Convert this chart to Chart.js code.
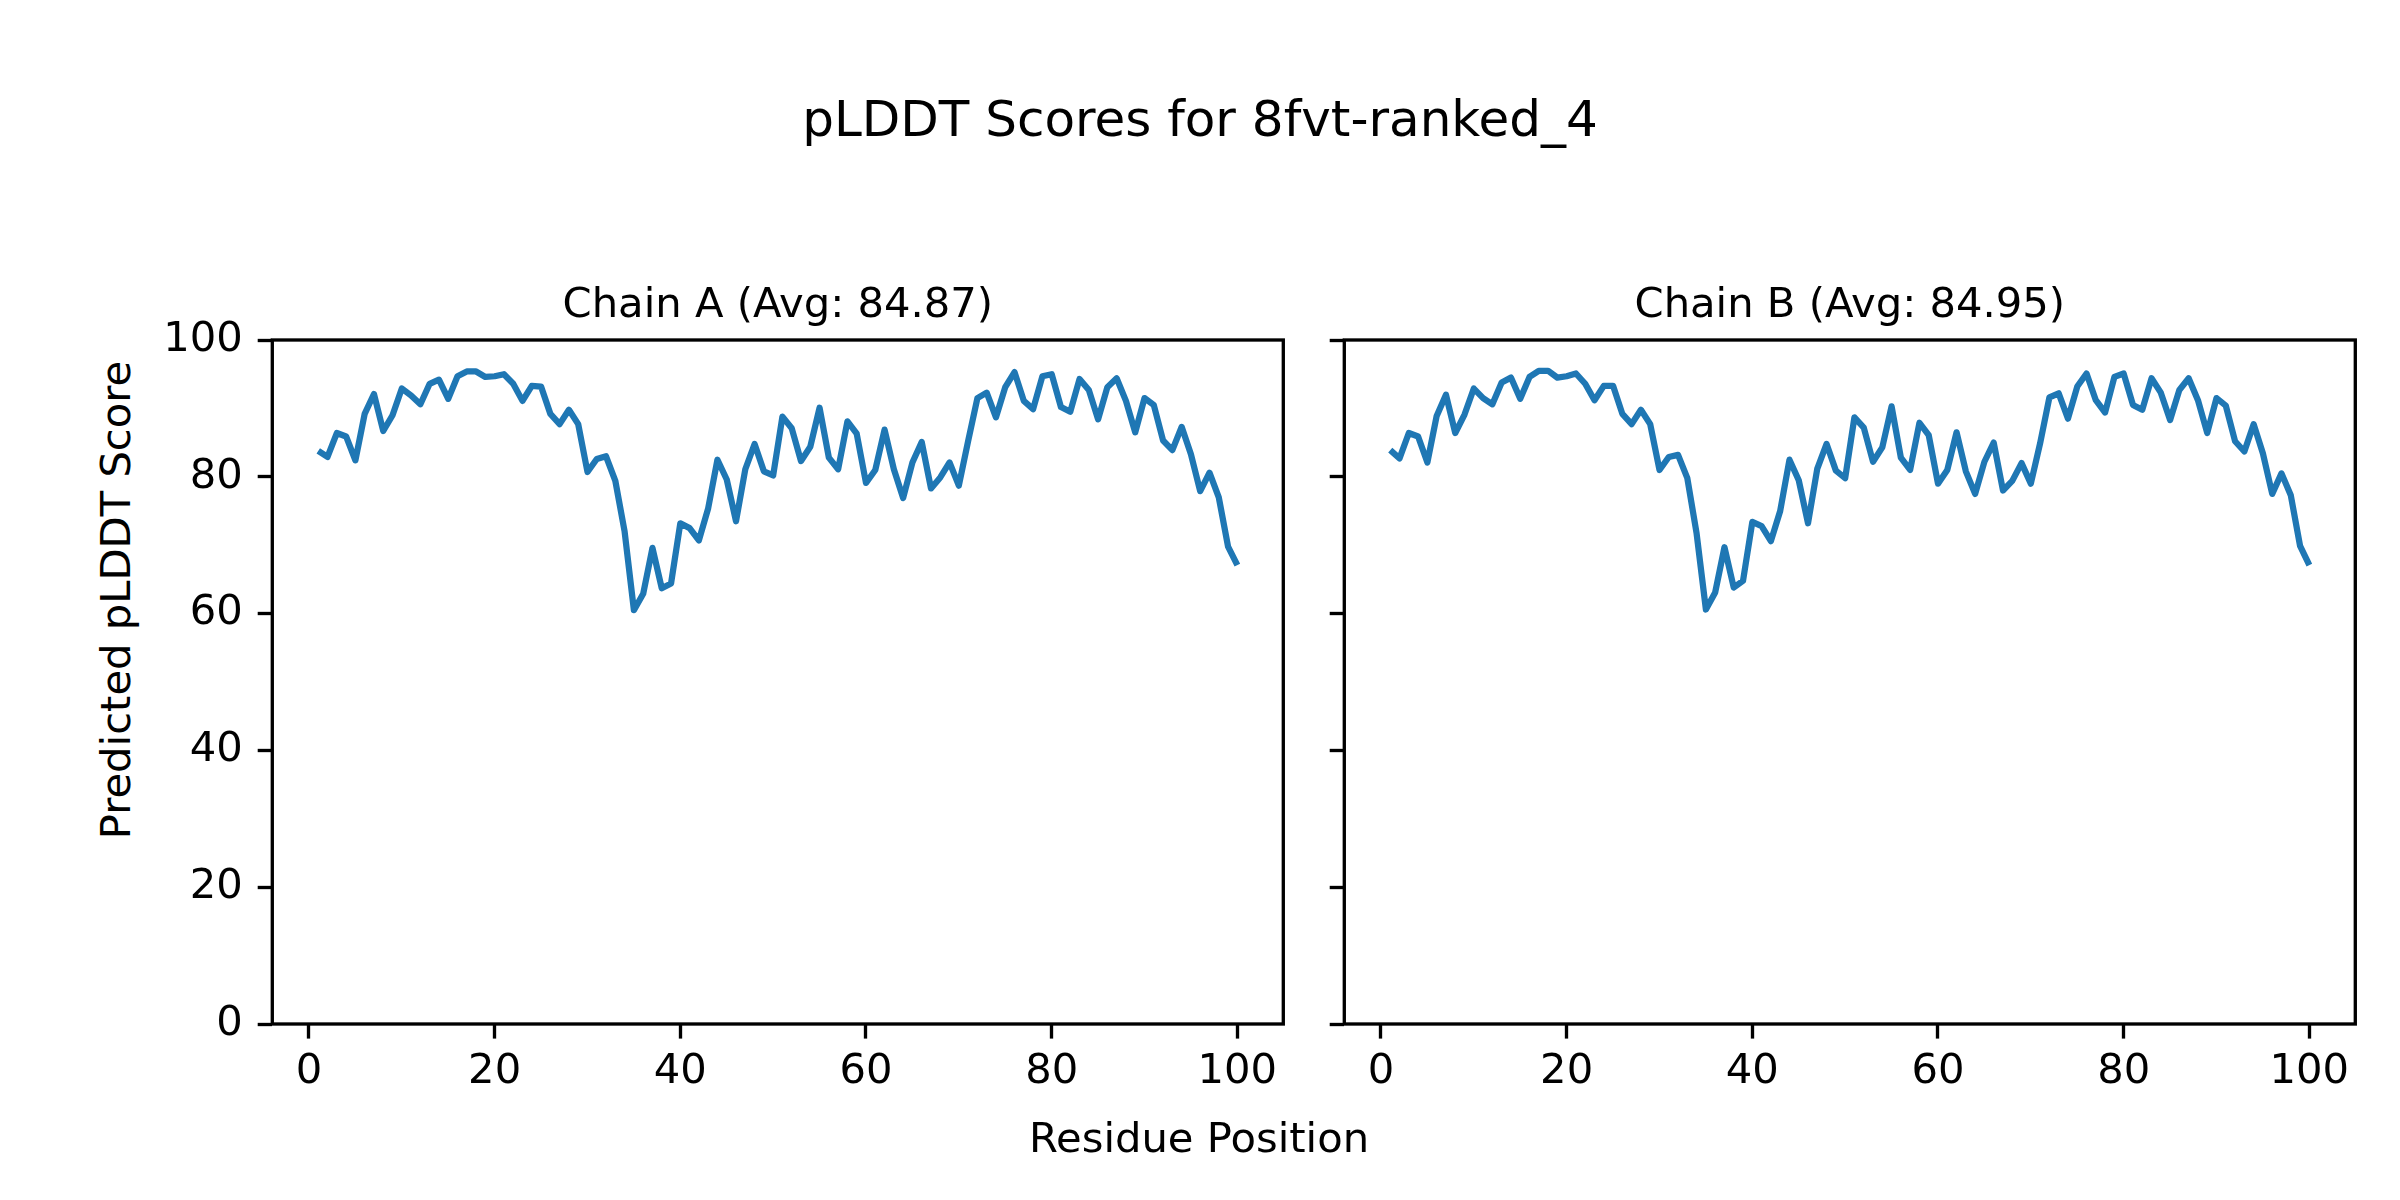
<!DOCTYPE html>
<html>
<head>
<meta charset="utf-8">
<script src="https://cdn.jsdelivr.net/npm/chart.js@4.4.1/dist/chart.umd.min.js"></script>
<style>
  html, body { margin: 0; padding: 0; background: #fff; }
  #fig { position: relative; width: 2400px; height: 1200px; background: #fff; font-family: 'DejaVu Sans', sans-serif; color: #000; }
  canvas { position: absolute; }
  .txt { position: absolute; line-height: 1; white-space: nowrap; }
</style>
</head>
<body>
<div id="fig">
  <div class="txt" style="left:1200px; top:94px; font-size:50px; transform:translateX(-50%);">pLDDT Scores for 8fvt-ranked_4</div>
  <canvas id="chainA" width="1150" height="880" style="left:150px; top:250px; width:1150px; height:880px;"></canvas>
  <canvas id="chainB" width="1080" height="880" style="left:1300px; top:250px; width:1080px; height:880px;"></canvas>
  <div class="txt" style="left:1199px; top:1117px; font-size:41.7px; transform:translateX(-50%);">Residue Position</div>
  <div class="txt" style="left:116px; top:600px; font-size:41.7px; transform:translate(-50%,-50%) rotate(-90deg);">Predicted pLDDT Score</div>
</div>
<script>
// residue positions (x)
const residues = [
  1, 2, 3, 4, 5, 6, 7, 8, 9, 10, 11, 12, 13, 14, 15, 16, 17, 18, 19, 20,
  21, 22, 23, 24, 25, 26, 27, 28, 29, 30, 31, 32, 33, 34, 35, 36, 37, 38, 39, 40,
  41, 42, 43, 44, 45, 46, 47, 48, 49, 50, 51, 52, 53, 54, 55, 56, 57, 58, 59, 60,
  61, 62, 63, 64, 65, 66, 67, 68, 69, 70, 71, 72, 73, 74, 75, 76, 77, 78, 79, 80,
  81, 82, 83, 84, 85, 86, 87, 88, 89, 90, 91, 92, 93, 94, 95, 96, 97, 98, 99, 100
];

const chainA = [
  83.8, 82.9, 86.4, 85.9, 82.4, 89.2, 92.1, 86.7, 89.0, 92.9,
  91.9, 90.6, 93.6, 94.2, 91.4, 94.7, 95.4, 95.4, 94.6, 94.7,
  95.0, 93.6, 91.1, 93.3, 93.2, 89.2, 87.7, 89.8, 87.7, 80.7,
  82.6, 83.0, 79.4, 72.0, 60.5, 62.9, 69.6, 63.7, 64.4, 73.2,
  72.5, 70.7, 75.4, 82.5, 79.6, 73.5, 81.1, 84.8, 80.8, 80.2,
  88.8, 87.1, 82.3, 84.4, 90.1, 82.8, 81.1, 88.1, 86.3, 79.1,
  81.0, 86.9, 81.1, 76.9, 82.1, 85.1, 78.3, 79.9, 82.1, 78.7,
  85.2, 91.5, 92.3, 88.7, 93.1, 95.3, 91.1, 89.9, 94.7, 95.0,
  90.2, 89.5, 94.3, 92.7, 88.4, 93.1, 94.4, 91.1, 86.5, 91.5,
  90.5, 85.3, 83.9, 87.3, 83.3, 77.9, 80.6, 77.0, 69.8, 67.1
];

const chainB = [
  83.9, 82.7, 86.4, 85.9, 82.1, 88.9, 92.0, 86.4, 89.1, 92.9,
  91.5, 90.6, 93.8, 94.5, 91.4, 94.6, 95.5, 95.5, 94.5, 94.7,
  95.1, 93.6, 91.2, 93.3, 93.3, 89.2, 87.7, 89.8, 87.7, 81.0,
  82.9, 83.2, 79.8, 71.7, 60.6, 63.1, 69.7, 63.8, 64.8, 73.4,
  72.8, 70.6, 75.0, 82.5, 79.5, 73.2, 81.2, 84.8, 80.9, 79.8,
  88.7, 87.2, 82.2, 84.3, 90.3, 82.8, 81.0, 87.9, 86.1, 79.0,
  81.0, 86.5, 80.8, 77.5, 82.2, 85.0, 78.0, 79.4, 82.0, 79.0,
  84.9, 91.6, 92.2, 88.5, 93.2, 95.1, 91.2, 89.4, 94.6, 95.1,
  90.5, 89.8, 94.4, 92.3, 88.3, 92.7, 94.4, 91.2, 86.4, 91.5,
  90.4, 85.2, 83.7, 87.7, 83.4, 77.5, 80.5, 77.3, 69.9, 67.1
];

const chainTitles = ['Chain A (Avg: 84.87)', 'Chain B (Avg: 84.95)'];
const xTicks = [0, 20, 40, 60, 80, 100];
const yTicks = [0, 20, 40, 60, 80, 100];

const FONT = "'DejaVu Sans', sans-serif";
const SPINE = 3.33;

// matplotlib style box around the axes, plus the axes title centred on the plot area
const frame = {
  id: 'frame',
  afterDraw(chart, args, opts) {
    const { ctx, chartArea: a } = chart;
    ctx.save();
    ctx.strokeStyle = '#000';
    ctx.lineWidth = SPINE;
    ctx.strokeRect(a.left, a.top, a.right - a.left, a.bottom - a.top);
    ctx.fillStyle = '#000';
    ctx.font = '41.7px ' + FONT;
    ctx.textAlign = 'center';
    ctx.textBaseline = 'middle';
    ctx.fillText(opts.title, (a.left + a.right) / 2, a.top - 34);
    ctx.restore();
  }
};

function makeChart(id, title, values, yWidth, padRight, yLabels) {
  const tickGrid = {
    display: true,
    drawOnChartArea: false,
    drawTicks: true,
    tickLength: 14.6,
    tickWidth: SPINE,
    tickColor: '#000'
  };
  return new Chart(document.getElementById(id), {
    type: 'line',
    data: {
      labels: residues,
      datasets: [{
        data: values,
        borderColor: '#1f77b4',
        borderWidth: 6.25,
        borderJoinStyle: 'round',
        pointRadius: 0,
        fill: false,
        tension: 0
      }]
    },
    options: {
      responsive: false,
      animation: false,
      events: [],
      layout: { padding: { left: 0, right: padRight, top: 90, bottom: 0 } },
      plugins: {
        legend: { display: false },
        tooltip: { enabled: false },
        title: { display: false },
        frame: { title: title }
      },
      scales: {
        x: {
          type: 'linear',
          min: -3.95,
          max: 104.95,
          grid: tickGrid,
          border: { display: false },
          afterBuildTicks: s => { s.ticks = xTicks.map(v => ({ value: v })); },
          afterFit: s => { s.height = 106; },
          ticks: {
            color: '#000',
            padding: 9,
            maxRotation: 0,
            font: { family: FONT, size: 41.7 },
            callback: v => String(v)
          }
        },
        y: {
          min: 0,
          max: 100,
          grid: tickGrid,
          border: { display: false },
          afterBuildTicks: s => { s.ticks = yTicks.map(v => ({ value: v })); },
          afterFit: s => { s.width = yWidth; },
          ticks: {
            color: '#000',
            padding: 15,
            font: { family: FONT, size: 41.7 },
            callback: v => yLabels ? String(v) : ''
          }
        }
      }
    },
    plugins: [frame]
  });
}

makeChart('chainA', chainTitles[0], chainA, 122.3, 16.7, true);
makeChart('chainB', chainTitles[1], chainB, 44.3, 24.7, false);
</script>
</body>
</html>
